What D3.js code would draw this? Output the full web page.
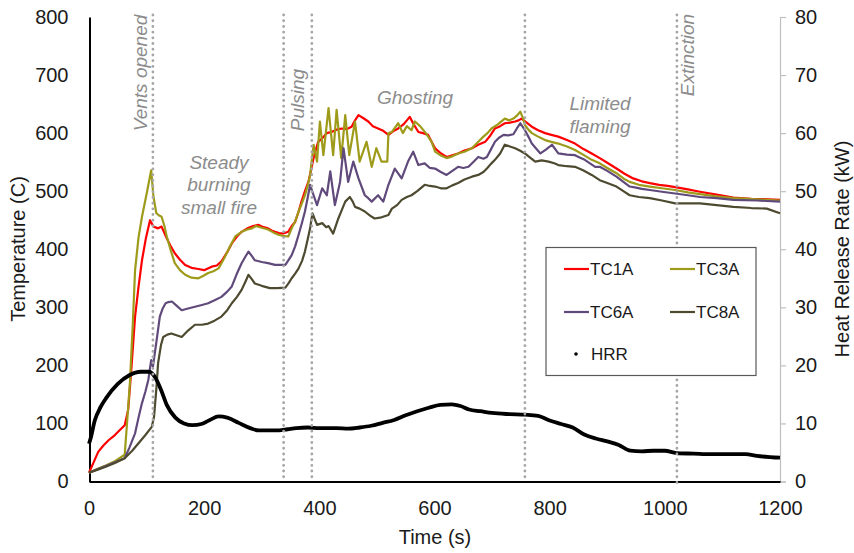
<!DOCTYPE html>
<html>
<head>
<meta charset="utf-8">
<script src="https://cdn.jsdelivr.net/npm/d3@7/dist/d3.min.js"></script>
<style>
  body { margin: 0; background: #fff; }
  text { font-family: "Liberation Sans", Arial, sans-serif; }
</style>
</head>
<body>
<div id="viz"></div>
<script>
// temperature series, [time (s), temperature (C)]
var tc1a = [[0,15],[8,33],[16,51],[25,62],[34,71],[45,80],[51,86],[62,97],[68,123],[74,200],[80,284],[86,335],[92,381],[99,420],[106,450],[112,439],[120,436],[126,439],[135,419],[142,405],[149,393],[158,382],[167,373],[178,368],[190,366],[200,364],[213,370],[222,372],[230,379],[240,395],[248,410],[257,422],[265,430],[275,436],[285,440],[294,442],[303,438],[311,436],[318,432],[323,430],[330,428],[337,427],[346,430],[352,440],[358,447],[364,465],[369,482],[375,500],[381,516],[386,538],[390,557],[395,575],[398,585],[405,591],[413,600],[421,602],[430,606],[439,608],[448,607],[456,611],[462,622],[468,631],[476,626],[485,620],[493,612],[502,608],[511,604],[520,597],[528,603],[537,608],[546,615],[552,622],[557,628],[564,615],[572,602],[580,600],[589,597],[595,585],[601,574],[610,566],[621,559],[631,562],[641,565],[652,570],[665,574],[676,580],[688,585],[697,596],[705,608],[714,612],[722,617],[731,618],[740,620],[746,622],[751,625],[760,618],[769,611],[780,605],[792,600],[803,597],[815,594],[830,588],[844,582],[858,573],[873,565],[887,557],[900,549],[916,539],[930,530],[945,522],[960,517],[974,514],[990,511],[1005,509],[1018,507],[1040,503],[1061,499],[1090,494],[1119,489],[1150,487],[1180,486],[1200,485]];
var tc3a = [[0,15],[15,22],[30,28],[45,35],[62,46],[66,100],[71,169],[76,270],[80,364],[86,420],[92,456],[100,495],[108,536],[112,490],[117,462],[122,458],[126,456],[131,440],[135,422],[142,398],[149,376],[158,364],[167,356],[178,351],[190,350],[198,354],[207,359],[216,362],[225,367],[235,385],[245,405],[254,422],[265,430],[275,434],[283,436],[290,440],[300,437],[311,434],[320,429],[329,425],[337,423],[346,422],[352,436],[358,448],[364,465],[370,480],[375,493],[380,510],[384,528],[390,580],[396,551],[401,620],[407,562],[416,643],[424,562],[430,640],[438,557],[445,631],[452,562],[462,620],[470,551],[482,585],[491,542],[499,574],[508,551],[518,551],[520,600],[526,602],[537,617],[545,600],[552,612],[560,605],[566,620],[575,612],[585,600],[595,585],[601,568],[610,562],[621,557],[631,560],[641,565],[652,568],[665,574],[676,585],[685,594],[692,600],[699,608],[710,615],[722,625],[730,622],[737,625],[743,630],[749,637],[754,625],[757,614],[763,606],[769,600],[780,594],[792,588],[803,585],[815,582],[830,577],[844,571],[858,563],[873,554],[887,548],[900,540],[916,531],[928,522],[939,516],[955,511],[974,508],[995,505],[1018,502],[1040,498],[1061,495],[1090,491],[1119,488],[1160,486],[1200,484]];
var tc6a = [[0,15],[15,21],[30,27],[45,33],[62,40],[70,58],[80,83],[86,110],[92,135],[98,155],[103,175],[108,209],[111,198],[117,240],[123,284],[128,298],[133,307],[138,309],[144,310],[152,303],[161,295],[172,298],[184,301],[196,304],[207,307],[218,312],[230,318],[240,327],[248,336],[256,356],[265,376],[272,388],[277,396],[283,388],[288,381],[300,378],[311,376],[323,373],[333,373],[341,373],[347,382],[352,390],[358,405],[364,425],[370,446],[375,465],[380,490],[384,511],[390,493],[396,476],[405,505],[413,493],[419,534],[427,476],[436,516],[442,574],[450,516],[459,551],[468,522],[479,493],[485,488],[491,482],[502,493],[511,482],[520,511],[531,539],[543,522],[554,551],[563,568],[572,545],[583,548],[592,540],[601,539],[611,533],[621,528],[631,535],[641,542],[650,540],[659,542],[667,550],[676,559],[685,556],[691,559],[698,572],[705,585],[712,592],[720,597],[728,596],[737,598],[743,608],[749,617],[757,605],[763,594],[769,582],[776,574],[784,565],[794,572],[804,580],[810,572],[815,565],[830,563],[844,562],[852,558],[861,554],[870,548],[879,542],[887,542],[900,535],[916,525],[928,516],[939,508],[950,506],[960,504],[974,502],[995,499],[1018,496],[1040,493],[1061,490],[1090,488],[1119,485],[1160,484],[1200,482]];
var tc8a = [[0,15],[14,20],[28,25],[45,32],[62,40],[75,53],[86,66],[98,80],[109,94],[113,112],[117,160],[120,204],[125,235],[129,249],[136,253],[143,255],[152,252],[161,249],[172,260],[184,270],[196,270],[207,272],[218,277],[230,284],[240,295],[248,307],[257,318],[265,330],[272,345],[277,356],[283,348],[288,341],[300,337],[314,333],[327,333],[341,334],[347,342],[352,350],[358,358],[364,367],[370,380],[375,396],[380,418],[384,436],[388,462],[392,452],[396,442],[405,445],[412,438],[416,440],[424,427],[433,453],[440,470],[445,482],[453,490],[458,482],[462,473],[470,470],[479,465],[488,458],[496,453],[508,455],[520,459],[526,470],[535,476],[543,485],[552,490],[560,493],[570,500],[583,511],[592,509],[601,508],[611,505],[621,505],[631,510],[641,514],[652,520],[665,525],[676,528],[685,533],[691,539],[698,547],[705,554],[714,565],[722,580],[731,577],[740,574],[748,570],[757,565],[766,558],[775,551],[786,553],[798,551],[808,548],[815,545],[830,543],[844,542],[858,536],[873,528],[887,519],[900,514],[916,508],[928,500],[939,493],[955,490],[974,488],[995,484],[1018,479],[1040,479],[1061,479],[1090,476],[1119,473],[1150,471],[1177,470],[1200,462]];
// heat release rate, [time (s), kW]
var hrr = [[0,6.5],[3,7.5],[10,10.5],[20,12.8],[30,14.4],[50,16.8],[70,18.3],[90,18.9],[105,18.9],[115,17.9],[125,15.8],[135,13.2],[150,11.0],[165,10.0],[180,9.7],[195,9.9],[210,10.6],[225,11.2],[240,11.0],[260,10.1],[280,9.2],[295,8.8],[330,8.8],[345,9.0],[360,9.2],[380,9.3],[400,9.2],[430,9.2],[450,9.1],[470,9.3],[490,9.6],[510,10.1],[530,10.6],[550,11.4],[570,12.1],[590,12.7],[610,13.2],[630,13.3],[645,13.0],[660,12.4],[680,12.1],[700,11.8],[730,11.6],[757,11.5],[780,11.3],[800,10.5],[820,9.9],[840,9.3],[860,8.1],[880,7.4],[900,6.9],[920,6.3],[940,5.3],[960,5.2],[980,5.3],[1000,5.3],[1020,4.9],[1050,4.8],[1080,4.7],[1140,4.7],[1160,4.4],[1200,4.1]];

var seriesNames = ['TC1A', 'TC3A', 'TC6A', 'TC8A'];
var seriesColors = ['#ff0000', '#9e9b1a', '#604a7b', '#4d4a30'];
var xTicks = [0, 200, 400, 600, 800, 1000, 1200];
var yTicks = [0, 100, 200, 300, 400, 500, 600, 700, 800];
var y2Ticks = [0, 10, 20, 30, 40, 50, 60, 70, 80];

// event markers (time in s)
var eventTimes = [111, 338, 387, 757, 1021];

var W = 854, H = 553;
var svg = d3.select('#viz').append('svg')
    .attr('width', W)
    .attr('height', H);

var x = d3.scaleLinear().domain([0, 1200]).range([89, 780]);
var y = d3.scaleLinear().domain([0, 800]).range([481.5, 17]);
var y2 = d3.scaleLinear().domain([0, 80]).range([481.5, 17]);
var fmt = d3.format('d');

// right axis (gray, ticks outside)
var rAxis = svg.append('g')
    .attr('transform', 'translate(780,0)')
    .call(d3.axisRight(y2).tickValues(y2Ticks).tickFormat(fmt).tickSize(6).tickPadding(9));
rAxis.select('.domain').attr('stroke', '#bfbfbf').attr('stroke-width', 1.2);
rAxis.selectAll('line').attr('stroke', '#bfbfbf').attr('stroke-width', 1.2);
rAxis.selectAll('text').attr('fill', '#1a1a1a').style('font-size', '20px')
    .style('font-family', '"Liberation Sans", Arial, sans-serif');

// left axis
var lAxis = svg.append('g')
    .attr('transform', 'translate(89.5,0)')
    .call(d3.axisLeft(y).tickValues(yTicks).tickFormat(fmt).tickSize(0).tickPadding(21));
lAxis.select('.domain').attr('stroke', '#000').attr('stroke-width', 2);
lAxis.selectAll('text').attr('fill', '#1a1a1a').style('font-size', '20px')
    .style('font-family', '"Liberation Sans", Arial, sans-serif');

// x axis
var xAxis = svg.append('g')
    .attr('transform', 'translate(0,481.5)')
    .call(d3.axisBottom(x).tickValues(xTicks).tickFormat(fmt).tickSize(0).tickPadding(19));
xAxis.select('.domain').attr('stroke', '#000').attr('stroke-width', 2);
xAxis.selectAll('text').attr('fill', '#1a1a1a').style('font-size', '20px')
    .style('font-family', '"Liberation Sans", Arial, sans-serif');

// axis titles
svg.append('text')
    .attr('transform', 'translate(18,249) rotate(-90)')
    .attr('text-anchor', 'middle').attr('dy', '0.35em')
    .style('font-size', '20px').attr('fill', '#1a1a1a')
    .text('Temperature (C)');
svg.append('text')
    .attr('transform', 'translate(842,249) rotate(-90)')
    .attr('text-anchor', 'middle').attr('dy', '0.35em')
    .style('font-size', '20px').attr('fill', '#1a1a1a')
    .text('Heat Release Rate (kW)');
svg.append('text')
    .attr('x', 435).attr('y', 544)
    .attr('text-anchor', 'middle')
    .style('font-size', '20px').attr('fill', '#1a1a1a')
    .text('Time (s)');

// lines
var tLine = d3.line()
    .x(function(d) { return x(d[0]); })
    .y(function(d) { return y(d[1]); });
var hLine = d3.line()
    .x(function(d) { return x(d[0]); })
    .y(function(d) { return y2(d[1]); })
    .curve(d3.curveMonotoneX);

[tc1a, tc3a, tc6a, tc8a].forEach(function(s, i) {
  svg.append('path')
    .datum(s)
    .attr('fill', 'none')
    .attr('stroke', seriesColors[i])
    .attr('stroke-width', 2.2)
    .attr('stroke-linejoin', 'round')
    .attr('d', tLine);
});

svg.append('path')
    .datum(hrr)
    .attr('fill', 'none')
    .attr('stroke', '#000')
    .attr('stroke-width', 3.8)
    .attr('stroke-linejoin', 'round')
    .attr('d', hLine);

// dotted event lines
svg.selectAll('.evt')
    .data(eventTimes)
    .enter().append('line')
    .attr('class', 'evt')
    .attr('x1', function(d) { return x(d); })
    .attr('x2', function(d) { return x(d); })
    .attr('y1', 15)
    .attr('y2', function(d) { return d > 1000 ? 487 : 481; })
    .attr('stroke', '#a6a6a6')
    .attr('stroke-width', 2.8)
    .attr('stroke-linecap', 'round')
    .attr('stroke-dasharray', '0.1,5.6');

// annotations
var annoColor = '#8c8c8c';
function rotLabel(cx, cy, txt) {
  svg.append('text')
    .attr('transform', 'translate(' + cx + ',' + cy + ') rotate(-90)')
    .attr('text-anchor', 'middle').attr('dy', '0.35em')
    .style('font-size', '19px').style('font-style', 'italic')
    .attr('fill', annoColor)
    .text(txt);
}
rotLabel(140, 73, 'Vents opened');
rotLabel(297, 100, 'Pulsing');
rotLabel(687, 55, 'Extinction');

function blockLabel(cx, ys, lines) {
  lines.forEach(function(l, i) {
    svg.append('text')
      .attr('x', cx).attr('y', ys[i])
      .attr('text-anchor', 'middle').attr('dy', '0.35em')
      .style('font-size', '19px').style('font-style', 'italic')
      .attr('fill', annoColor)
      .text(l);
  });
}
blockLabel(219, [162, 184, 207], ['Steady', 'burning', 'small fire']);
blockLabel(415, [97], ['Ghosting']);
blockLabel(600, [103, 126], ['Limited', 'flaming']);

// legend
var legend = svg.append('g');
legend.append('rect')
    .attr('x', 546).attr('y', 247.5)
    .attr('width', 210).attr('height', 128)
    .attr('fill', '#fff')
    .attr('stroke', '#595959')
    .attr('stroke-width', 1.2);

seriesNames.forEach(function(n, i) {
  var lx = 564 + (i % 2) * 106;
  var ly = 269 + Math.floor(i / 2) * 43;
  legend.append('line')
    .attr('x1', lx).attr('x2', lx + 25)
    .attr('y1', ly).attr('y2', ly)
    .attr('stroke', seriesColors[i])
    .attr('stroke-width', 2.2);
  legend.append('text')
    .attr('x', lx + 26).attr('y', ly)
    .attr('dy', '0.35em')
    .style('font-size', '17px').attr('fill', '#1a1a1a')
    .text(n);
});
legend.append('circle')
    .attr('cx', 576).attr('cy', 354).attr('r', 1.8)
    .attr('fill', '#000');
legend.append('text')
    .attr('x', 591).attr('y', 354).attr('dy', '0.35em')
    .style('font-size', '17px').attr('fill', '#1a1a1a')
    .text('HRR');
</script>
</body>
</html>
